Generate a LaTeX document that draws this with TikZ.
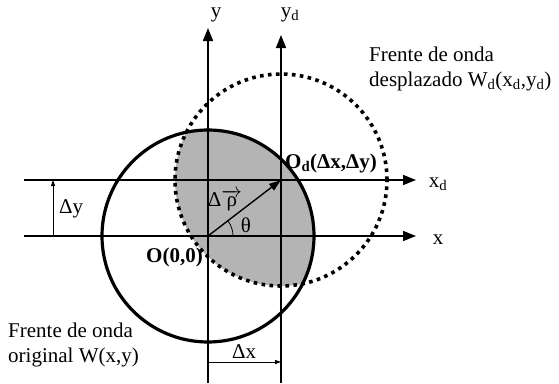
\documentclass[tikz,border=0pt]{standalone}
\usepackage{fontspec}
\setmainfont{Liberation Serif}
\usepackage{tikz}
\usetikzlibrary{positioning, arrows.meta}
\definecolor{lensGray}{HTML}{B4B4B4}

\begin{document}
\begin{tikzpicture}[
  x=1pt, y=-1pt,
  every node/.style={font=\fontsize{21}{25}\selectfont, inner sep=0pt},
  axis/.style={black, line width=1.6pt, -{Triangle[length=13pt, width=10pt]}},
  gap/.style={black, line width=0.9pt, -{Triangle[length=6pt, width=4pt]}},
  front/.style={black, line width=3.2pt},
  shifted/.style={black, line width=3.6pt, dash pattern=on 3.6pt off 4.4pt},
  boldlabel/.style={font=\fontsize{21}{25}\selectfont\bfseries},
]
\useasboundingbox (0,0) rectangle (559,383);

% Origins
\coordinate (O) at (208,236);
\coordinate (Od) at (281,180);

% Overlap of both wavefronts
\begin{scope}
  \clip (O) circle (106pt);
  \fill[lensGray] (Od) circle (106pt);
\end{scope}

% Wavefronts
\draw[front] (O) circle (106pt);
\draw[shifted] (Od) circle (106pt);

% Axes
\coordinate (xStart) at (24,236);
\coordinate (xEnd) at (416,236);
\coordinate (xdStart) at (24,180);
\coordinate (xdEnd) at (416,180);
\coordinate (yStart) at (208,383);
\coordinate (yEnd) at (208,28);
\coordinate (ydStart) at (281,383);
\coordinate (ydEnd) at (281,35);
\draw[axis] (xStart) -- (xEnd);
\draw[axis] (xdStart) -- (xdEnd);
\draw[axis] (yStart) -- (yEnd);
\draw[axis] (ydStart) -- (ydEnd);

\node (xLbl) at (438,240) {x};
\node (xdLbl) at (438,184) {x\textsubscript{d}};
\node (yLbl) at (216,15) {y};
\node (ydLbl) at (290,15) {y\textsubscript{d}};

% Displacements
\coordinate (dyBot) at (53,236);
\coordinate (dyTop) at (53,180);
\draw[gap] (dyBot) -- (dyTop);
\node[right=6pt of dyBot, yshift=27pt] (dyLbl) {Δy};

\coordinate (dxLeft) at (208,362);
\coordinate (dxRight) at (281,362);
\draw[gap] (dxLeft) -- (dxRight);
\node[above=3pt of dxLeft, xshift=36pt] (dxLbl) {Δx};

% Displacement vector
\draw[black, line width=1.4pt, -{Triangle[length=12pt, width=8pt]}] (O) -- (Od);
\draw[black, line width=0.8pt] ([shift={(25pt,0pt)}]O) arc[start angle=0, end angle=37, radius=25pt];
\node (rhoLbl) at (225,200) {Δ$\overrightarrow{\mbox{ρ}}$};
\node (thetaLbl) at (246,225) {θ};

% Origin labels
\node[boldlabel, anchor=east] (OLbl) at (203,257) {O(0,0)};
\node[boldlabel, anchor=west] (OdLbl) at (285,163) {O\textsubscript{d}(Δx,Δy)};

% Wavefront labels
\node[align=left, anchor=north west] (dispLbl) at (369,47) {Frente de onda\\desplazado W\textsubscript{d}(x\textsubscript{d},y\textsubscript{d})};
\node[align=left, anchor=north west] (origLbl) at (8,323) {Frente de onda\\original W(x,y)};

\end{tikzpicture}
\end{document}
